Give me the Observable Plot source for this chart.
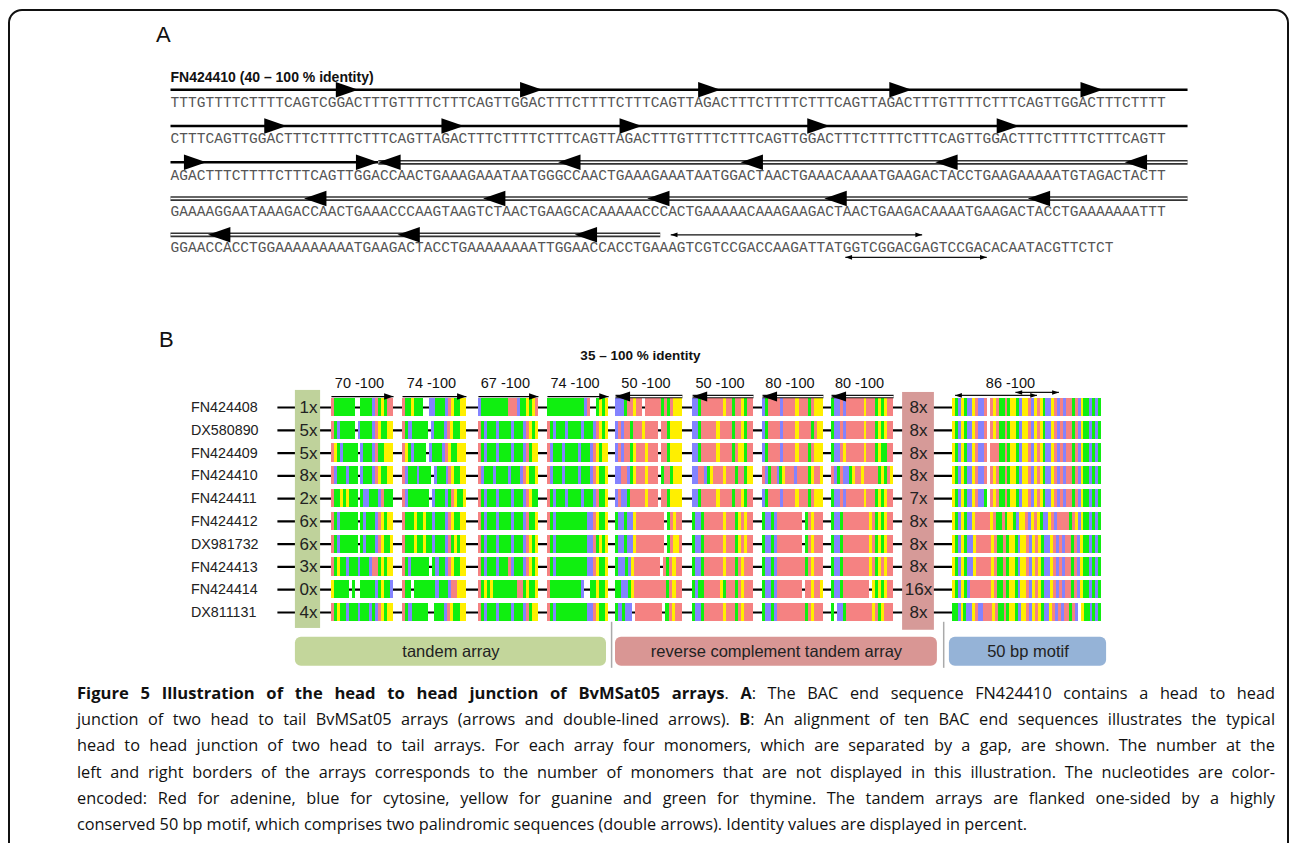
<!DOCTYPE html>
<html><head><meta charset="utf-8">
<script src="https://cdn.jsdelivr.net/npm/d3@7"></script>
<script src="https://cdn.jsdelivr.net/npm/@observablehq/plot@0.6"></script>
<style>
body{margin:0;background:#fff;width:1290px;height:843px;overflow:hidden;position:relative;font-family:"Liberation Sans",Arial,sans-serif;}
#frame{position:absolute;left:8px;top:9px;width:1281px;height:900px;border:2px solid #111;border-radius:14px;box-sizing:border-box;}
.svgbox{position:absolute;left:0;}
.plabel{position:absolute;font-size:22px;color:#111;line-height:24px;}
#caption{position:absolute;left:77px;top:680px;width:1198px;font-family:"Open Sans",sans-serif;font-size:16.3px;line-height:26.2px;color:#111;}
#caption div{text-align:justify;text-align-last:justify;white-space:nowrap;}
#caption div.last{text-align-last:left;}
#caption b.t{font-size:16.6px;}
</style></head>
<body>
<div id="frame"></div>
<div class="plabel" style="left:156px;top:23px">A</div>
<div class="plabel" style="left:159px;top:328px">B</div>
<div id="panelA" class="svgbox" style="top:0"></div>
<div id="panelB" class="svgbox" style="top:320px"></div>
<div id="caption">
<div><b class="t">Figure 5 Illustration of the head to head junction of BvMSat05 arrays</b>. <b>A</b>: The BAC end sequence FN424410 contains a head to head</div>
<div>junction of two head to tail BvMSat05 arrays (arrows and double-lined arrows). <b>B</b>: An alignment of ten BAC end sequences illustrates the typical</div>
<div>head to head junction of two head to tail arrays. For each array four monomers, which are separated by a gap, are shown. The number at the</div>
<div>left and right borders of the arrays corresponds to the number of monomers that are not displayed in this illustration. The nucleotides are color-</div>
<div>encoded: Red for adenine, blue for cytosine, yellow for guanine and green for thymine. The tandem arrays are flanked one-sided by a highly</div>
<div class="last">conserved 50 bp motif, which comprises two palindromic sequences (double arrows). Identity values are displayed in percent.</div>
</div>
<script>
// ---------------- Panel A data ----------------
const headerA = "FN424410 (40 \u2013 100 % identity)";
const seqLines = [
  "TTTGTTTTCTTTTCAGTCGGACTTTGTTTTCTTTCAGTTGGACTTTCTTTTCTTTCAGTTAGACTTTCTTTTCTTTCAGTTAGACTTTGTTTTCTTTCAGTTGGACTTTCTTTT",
  "CTTTCAGTTGGACTTTCTTTTCTTTCAGTTAGACTTTCTTTTCTTTCAGTTAGACTTTGTTTTCTTTCAGTTGGACTTTCTTTTCTTTCAGTTGGACTTTCTTTTCTTTCAGTT",
  "AGACTTTCTTTTCTTTCAGTTGGACCAACTGAAAGAAATAATGGGCCAACTGAAAGAAATAATGGACTAACTGAAACAAAATGAAGACTACCTGAAGAAAAATGTAGACTACTT",
  "GAAAAGGAATAAAGACCAACTGAAACCCAAGTAAGTCTAACTGAAGCACAAAAACCCACTGAAAAACAAAGAAGACTAACTGAAGACAAAATGAAGACTACCTGAAAAAAATTT",
  "GGAACCACCTGGAAAAAAAAATGAAGACTACCTGAAAAAAAATTGGAACCACCTGAAAGTCGTCCGACCAAGATTATGGTCGGACGAGTCCGACACAATACGTTCTCT"
];
// forward (single-lined) arrows: line index and head tip position (in nucleotides)
const fwdHeadLine = [0,0,0,0,0, 1,1,1,1,1, 2,2];
const fwdHeadTip  = [21.5,42.6,63,84.9,106.8, 13.3,33.6,54,75.5,97.2, 4.1,23.8];
const fwdSpanLine = [0,1,2];
const fwdSpanFrom = [0,0,0];
const fwdSpanTo   = [116.5,116.5,23.8];
// reverse (double-lined) arrows
const revHeadLine = [2,2,2,2,2, 3,3,3,3,3, 4,4,4];
const revHeadTip  = [23.8,44.4,65.3,87.6,109.3, 15.3,35.8,54.6,74.9,98.2, 4.3,26,46.3];
const revSpanLine = [2,3,4];
const revSpanFrom = [23.8,0,0];
const revSpanTo   = [116.5,116.5,56.1];
// palindromes of the 50 bp motif (double arrows)
const palLine = [4,4];
const palSide = ["above","below"];
const palFrom = [57.3,77.3];
const palTo   = [86.1,93.5];

// ---------------- Panel B data ----------------
const accessions = ["FN424408","DX580890","FN424409","FN424410","FN424411","FN424412","DX981732","FN424413","FN424414","DX811131"];
const leftHidden  = ["1x","5x","5x","8x","2x","6x","6x","3x","0x","4x"];
const rightHidden = ["8x","8x","8x","8x","7x","8x","8x","8x","16x","8x"];
const tandem1 = ["ATTTTTTT--TTTTCATGTAA","ATCTTTTT-CTTTTCAGTTGG","AGTCTTTTT-CTTTCATTGGG","ACTTTCTTT-CTTTCAGTTGG","ATTGTGTTT-TCCTTTCATTT","ATCTTTTTT-TCTTTCAGTGG","ATCTTTTTT-TCTTTCAGTTG","ATGTTCTTTCTTTCAATGTGG","GTTTTT-T--TTTTTCTGTTC","ATGTTCTTTCTTTCTCAGTGG"];
const tandem2 = ["ATTGTTT--CCTTTCAGTTGG","ATCTTTTT-CTTTCAGTTGG","AGTCTTTT-CTTTCAGTTGGG","ACTTTCTTTT-CTTTCAGTTGG","ACTTTTTTT-CTTTCTAGTTG","ATTTGTTGTTCTTTCAGTTGG","ATTTGTTGTTCTTTCATGTGG","ATCTTTTTT-TCTTCAGTTGG","ATT-TTTTTTTCTTTCAAGGG","ATCTTTTT--TTTCAGTTGG"];
const tandem3 = ["CTTTTTTTTTAAACTTGTGA","ATCTTTCTTTTCTTTCAGTG","ATCTTTCTTTTCTTTCATGG","ACTTTCTTTTCTTTCAGTTG","ATCTTTCTTTTCTTTCAGTT","ATCTTTCTTTTCTTTCATTG","ATCTTTCTTTTCTTTCAGTG","ATCTTTCTTTACTTTCAGTG","ATGTGTTTTTTTTAATGTTG","ATCTTTCTTTTCTTTCATGG"];
const tandem4 = ["TTTTTTTTTTTTCA--TGTG","ATCTTTCTTTTCTTTCAGTG","ACTTTCTTTTCTTTCAGTGG","ACTTTCTTTTCTTTCAGTTG","ATCTTTCTTTTCTTTCATTG","ATCTTTTTTTTTTCCAGTTG","ATCTTTTTTTTTTCCATGTG","ATCTTTTTTTTTTCCAGTTG","ATTTTTTTTTTC--TTGTTG","ATCTTTTTTTTTTCCAGTTG"];
const revcomp1 = ["CCCTAAGAA-AAAAATATAGGG","CACAATAAAGAAAA-AATGGGG","CACAATGAAAGAAA-AATGGGG","CCAACTGAAAGAAA-TAATGGG","CACCTAAAAAGAAA-AATGGGG","TCCTCCGAAAAAAAAA-TAGAA","TCCTCCGAAAAAAAAA-TAGGA","TCCTCGAAAAAAAA-ATAGAA","TTCCTGAAAAAAAAAATAGAA","TCTCC-AAAAAAAA-TAGAA"];
const revcomp2 = ["CCTAAAAAAAGAATAAGTAA","CCTAAAAAGAAAATAAGTAA","CCTAAAAAGAAAATAGGTAA","CCAACTGAAAGAAATAATGG","CCTAAAAAGAAAATAAGTAA","TCCTAAAAAAGAAATGAGAA","TCCTAAAAAAGAAATGAGAA","TCCTAAAAAAGAAATAGAAA","TCTTAAAAAGTAAATAGAAA","TCCTAAAAAAGAAATAGAAA"];
const revcomp3 = ["CTAAAACAAAAGAAATAGGG","CTAAAACAAAAGAAAATAGG","CTAAAACAAAAGAAATAGGG","ACTAACTGAAACAAAATGAAG","CTAAAACAAAAGAAATAGGG","TCCTCAAAAAAAA-TAGAAA","TCCTCAAAAAAAA-TAGAAA","TCCTCAAAAAAAAATAGAAA","TCCTCAAAAAAAA-AAGAAG","TCCTCAAAAAAAAATAGAAA"];
const revcomp4 = ["TCCACAAAAAAGAAATGTGAA","TCCACAAAAAAGAAATGTGAA","TCCAGAAAAAAGAAATGTTAA","ACTACCTGAAGAAAAATGTAG","TCCACAAAAAAGAAATGTGAA","TCCTAAAAAAAAAGATGTGAA","TCCTAAAAAAAAAGATGTGAA","TCCTAAAAAAAAAGATGAGAA","TCCTAAAAAAAAA-GTGTGAA","T-CCTAAAAAAAAAGATGAAA"];
const motif50 = [
  "GTCGTCCGACCA-AGATTATGGTCGGACGAGTCCGACACAATACGTTCTCT",
  "GTCGTCCGACCA-AGATTATGGTCGGACGAGTCCGACACAATACGTTCTCT",
  "GTCGTCCGACCA-AAATTATGGTCGGACGAGTCCGACACAATACGTTCTCT",
  "GTCGTCCGACCA-AGATTATGGTCGGACGAGTCCGACACAATACGTTCTCT",
  "GTCGTCCGACCT-AGATTATGGTCGGACGAGTCCGACACAATACGTTCTCT",
  "GTCGTCCGAAAAAGATTATGGTCGGACGAGTCCGACAAAATAGCGTTCTCT",
  "GTCGTCCGAAAAAGATTATGGTCGGACGAGTCCGACACAATACGTTCTCT",
  "GTCGTCCGAAAAAGATTATGGTCGGACGAGTCCGACACAATACGTTCTCT",
  "GTCGTCAAAAAAAGATTATGGTCGGACGAGTCCGACACAATACGTTCTCT",
  "TTCGTCCGACCAAAGATTATGGTCGGACGAGTCCGACACAATAC-GTTCTCT"
];
const monomerIdentity = ["70 -100","74 -100","67 -100","74 -100","50 -100","50 -100","80 -100","80 -100"];
const motifIdentity = "86 -100";
const overallIdentity = "35 \u2013 100 % identity";
const groupNames = ["tandem array","reverse complement tandem array","50 bp motif"];
const nucleotides = ["A","C","G","T"];

// ---------------- styles / layout ----------------
const ntColors = ["#f58282","#8383ff","#ffef00","#10ef10"];
const symRight = {draw(ctx,size){const r=Math.sqrt(size/Math.PI);ctx.moveTo(0,0);ctx.lineTo(-2.6*r,-0.9*r);ctx.lineTo(-2.6*r,0.9*r);ctx.closePath();}};
const symLeft  = {draw(ctx,size){const r=Math.sqrt(size/Math.PI);ctx.moveTo(0,0);ctx.lineTo(2.6*r,-0.9*r);ctx.lineTo(2.6*r,0.9*r);ctx.closePath();}};

// ---------------- Panel A ----------------
{
  const AR = -0.35, BELOW = 0.27;
  const chars = seqLines.flatMap((s,line)=>Array.from(s,(ch,i)=>({line,i,ch})));
  const fwdHeads = fwdHeadTip.map((t,k)=>({t,line:fwdHeadLine[k]}));
  const revHeads = revHeadTip.map((t,k)=>({t,line:revHeadLine[k]}));
  const fwdSpans = fwdSpanLine.map((line,k)=>({line,a:fwdSpanFrom[k],b:fwdSpanTo[k]}));
  const revSpans = revSpanLine.map((line,k)=>({line,a:revSpanFrom[k],b:revSpanTo[k]}));
  const pals = palLine.map((line,k)=>({y:line+(palSide[k]==="above"?AR:BELOW),a:palFrom[k],b:palTo[k]}));
  const cw = 8.73;
  const plotA = Plot.plot({
    width:1290, height:270, margin:0,
    style:{fontFamily:"Liberation Sans, Arial, sans-serif", background:"transparent"},
    x:{domain:[0,114], range:[170,170+114*cw], axis:null},
    y:{domain:[0,4], range:[102,247], axis:null},
    marks:[
      Plot.text([headerA],{x:0,y:-0.69,text:d=>d,textAnchor:"start",fontWeight:"bold",fontSize:14,fill:"#111"}),
      Plot.link(fwdSpans,{x1:"a",x2:"b",y1:d=>d.line+AR,y2:d=>d.line+AR,stroke:"#000",strokeWidth:2.6}),
      Plot.link(revSpans,{x1:"a",x2:"b",y1:d=>d.line+AR,y2:d=>d.line+AR,stroke:"#333",strokeWidth:4.8}),
      Plot.link(revSpans,{x1:"a",x2:"b",y1:d=>d.line+AR,y2:d=>d.line+AR,stroke:"#fff",strokeWidth:1.5}),
      Plot.dot(fwdHeads,{x:"t",y:d=>d.line+AR,r:8.6,symbol:symRight,fill:"#000",stroke:"none"}),
      Plot.dot(revHeads,{x:"t",y:d=>d.line+AR,r:8.6,symbol:symLeft,fill:"#000",stroke:"none"}),
      Plot.link(pals,{x1:"a",x2:"b",y1:"y",y2:"y",stroke:"#111",strokeWidth:1.2}),
      Plot.dot(pals,{x:"a",y:"y",r:2.6,symbol:symLeft,fill:"#000",stroke:"none"}),
      Plot.dot(pals,{x:"b",y:"y",r:2.6,symbol:symRight,fill:"#000",stroke:"none"}),
      Plot.text(chars,{x:d=>d.i+0.5,y:"line",text:"ch",fontFamily:"Liberation Mono, monospace",fontSize:14.5,fill:"#555"})
    ]
  });
  document.getElementById("panelA").appendChild(plotA);
}

// ---------------- Panel B ----------------
{
  // segment extents in alignment columns (1 column = 3 px)
  const segments = [
    {seqs:tandem1,  x1:110.3,x2:131.0,kind:"fwd",label:monomerIdentity[0]},
    {seqs:tandem2,  x1:134.0,x2:155.3,kind:"fwd",label:monomerIdentity[1]},
    {seqs:tandem3,  x1:159.3,x2:179.3,kind:"fwd",label:monomerIdentity[2]},
    {seqs:tandem4,  x1:182.3,x2:202.7,kind:"fwd",label:monomerIdentity[3]},
    {seqs:revcomp1, x1:205.0,x2:227.3,kind:"rev",label:monomerIdentity[4]},
    {seqs:revcomp2, x1:230.7,x2:251.0,kind:"rev",label:monomerIdentity[5]},
    {seqs:revcomp3, x1:254.0,x2:274.3,kind:"rev",label:monomerIdentity[6]},
    {seqs:revcomp4, x1:277.0,x2:297.7,kind:"rev",label:monomerIdentity[7]},
    {seqs:motif50,  x1:317.3,x2:367.0,kind:"motif",label:motifIdentity}
  ];
  // run-length cells
  const cells = [];
  segments.forEach((seg,si)=>{
    seg.seqs.forEach((s,row)=>{
      const w = (seg.x2-seg.x1)/s.length;
      let i=0;
      while(i<s.length){
        let j=i; while(j<s.length && s[j]===s[i]) j++;
        if(s[i]!=="-") cells.push({row,nt:s[i],a:seg.x1+i*w,b:seg.x1+j*w});
        i=j;
      }
    });
  });
  const rows = accessions.map((id,row)=>({id,row,left:leftHidden[row],right:rightHidden[row]}));
  const fwd = segments.filter(s=>s.kind==="fwd");
  const rev = segments.filter(s=>s.kind==="rev");
  const motifSeg = segments[8];
  const HA = -0.48;
  const motifArrows = [
    {a:motifSeg.x1+0.9,b:motifSeg.x1+28.2,y:-0.53},
    {a:motifSeg.x1+21.0,b:motifSeg.x1+35.5,y:-0.66}
  ];
  const groups = [
    {name:groupNames[0],a:98.3,b:202.0,fill:"#c3d69b"},
    {name:groupNames[1],a:205.0,b:312.3,fill:"#d99694"},
    {name:groupNames[2],a:316.3,b:368.7,fill:"#95b3d7"}
  ];
  const separators = [203.7,314.4];
  const plotB = Plot.plot({
    width:1290, height:355, margin:0,
    style:{fontFamily:"Liberation Sans, Arial, sans-serif", background:"transparent"},
    x:{domain:[0,430], range:[0,1290], axis:null},
    y:{domain:[0,9], range:[87,292], axis:null},
    color:{type:"ordinal",domain:nucleotides,range:ntColors},
    marks:[
      Plot.text([overallIdentity],{x:213.3,y:-2.28,text:d=>d,fontWeight:"bold",fontSize:13.5,fill:"#111"}),
      Plot.link(rows,{x1:92.3,x2:317.3,y1:"row",y2:"row",stroke:"#000",strokeWidth:2.2}),
      Plot.rect([0],{x1:98.3,x2:106.7,y1:-0.75,y2:9.7,fill:"#bfd29b"}),
      Plot.rect([0],{x1:300.7,x2:311.3,y1:-0.66,y2:9.78,fill:"#d69a98"}),
      Plot.rect(cells,{x1:"a",x2:"b",y1:d=>d.row-0.4,y2:d=>d.row+0.4,fill:"nt",shapeRendering:"crispEdges"}),
      Plot.text(rows,{x:63.5,y:"row",text:"id",textAnchor:"start",fontSize:14.3,fill:"#222"}),
      Plot.text(rows,{x:102.7,y:"row",text:"left",fontSize:17,fill:"#222"}),
      Plot.text(rows,{x:306,y:"row",text:"right",fontSize:17,fill:"#222"}),
      // identity arrows above the monomers
      Plot.link(fwd,{x1:"x1",x2:"x2",y1:HA,y2:HA,stroke:"#000",strokeWidth:1.3}),
      Plot.dot(fwd,{x:"x2",y:HA,r:3.6,symbol:symRight,fill:"#000",stroke:"none"}),
      Plot.link(rev,{x1:"x1",x2:"x2",y1:HA,y2:HA,stroke:"#111",strokeWidth:3.6}),
      Plot.link(rev,{x1:"x1",x2:"x2",y1:HA,y2:HA,stroke:"#fff",strokeWidth:1.2}),
      Plot.dot(rev,{x:"x1",y:HA,r:5.6,symbol:symLeft,fill:"#000",stroke:"none"}),
      Plot.link(motifArrows,{x1:"a",x2:"b",y1:"y",y2:"y",stroke:"#111",strokeWidth:1.2}),
      Plot.dot(motifArrows,{x:"a",y:"y",r:2.6,symbol:symLeft,fill:"#000",stroke:"none"}),
      Plot.dot(motifArrows,{x:"b",y:"y",r:2.6,symbol:symRight,fill:"#000",stroke:"none"}),
      Plot.text(segments,{x:d=>(d.x1+d.x2)/2+(d.kind==="motif"?-5.5:-1),y:-1.05,text:"label",fontSize:14.5,fill:"#111"}),
      // group boxes
      Plot.ruleX(separators,{x:d=>d,y1:9.43,y2:11.45,stroke:"#aaa",strokeWidth:1.5}),
      Plot.rect(groups,{x1:"a",x2:"b",y1:10.09,y2:11.36,fill:"fill",rx:6}),
      Plot.text(groups,{x:d=>(d.a+d.b)/2,y:10.72,text:"name",fontSize:16.5,fill:"#222"})
    ]
  });
  document.getElementById("panelB").appendChild(plotB);
}
</script>
</body></html>
